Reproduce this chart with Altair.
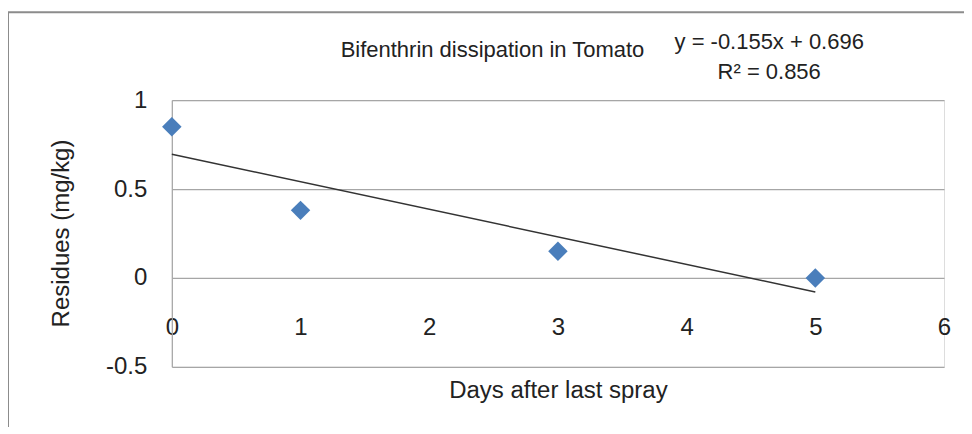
import altair as alt
import pandas as pd

# Data
days = [0, 1, 3, 5]
residues = [0.85, 0.38, 0.15, 0.0]
slope = -0.155
intercept = 0.696
trend_x = [0, 5]
y_ticks = [-0.5, 0, 0.5, 1]
x_ticks = [0, 1, 2, 3, 4, 5, 6]

FONT = "Liberation Sans Narrow, Liberation Sans, Arial, sans-serif"

pts = pd.DataFrame({"day": days, "res": residues})
trend = pd.DataFrame({"day": trend_x, "res": [slope * x + intercept for x in trend_x]})

xscale = alt.Scale(domain=[0, 6], nice=False, zero=False)
yscale = alt.Scale(domain=[-0.5, 1], nice=False)

xaxis = alt.Axis(
    values=x_ticks, title="Days after last spray", grid=False, domain=False, ticks=False,
    labelExpr="toString(datum.value)",
    labelBaseline="middle", labelPadding=-39, labelFlush=False, labelOverlap=False,
    labelFontSize=24, labelColor="#222222", labelFont=FONT,
    titleFontSize=24, titleFont=FONT, titleColor="#222222", titleFontWeight="normal",
    titleBaseline="middle", titleY=24,
)
yaxis = alt.Axis(
    values=y_ticks, title="Residues (mg/kg)", grid=True, gridColor="#a6a6a6", gridWidth=1.2,
    domain=True, domainColor="#a6a6a6", domainWidth=1.2, ticks=False,
    labelPadding=25, labelFontSize=24, labelColor="#222222", labelFont=FONT,
    labelExpr="toString(datum.value)",
    titleFontSize=24, titleFont=FONT, titleColor="#222222", titleFontWeight="normal",
    titleBaseline="middle", titleX=-110, titleY=133, titleAngle=-90,
)

frame = alt.Chart(pd.DataFrame({"a": [0]})).mark_rect(
    fill=None, stroke="#8c8c8c", strokeWidth=2, clip=False
).encode(
    x=alt.value(-164), x2=alt.value(900), y=alt.value(-88), y2=alt.value(420)
)

line = alt.Chart(trend).mark_line(color="#333333", strokeWidth=1.5).encode(
    x=alt.X("day:Q", scale=xscale, axis=xaxis),
    y=alt.Y("res:Q", scale=yscale, axis=yaxis),
)

points = alt.Chart(pts).mark_point(
    shape="diamond", filled=True, size=380, color="#4a7ebb", opacity=1
).encode(
    x=alt.X("day:Q", scale=xscale),
    y=alt.Y("res:Q", scale=yscale),
)

title_txt = alt.Chart(pd.DataFrame({"t": ["Bifenthrin dissipation in Tomato"]})).mark_text(
    font=FONT, fontSize=22, color="#222222", align="center", baseline="middle"
).encode(x=alt.value(321), y=alt.value(-50), text="t:N")

eq_txt = alt.Chart(pd.DataFrame({"t": [f"y = {slope}x + {intercept}", "R² = 0.856"], "dy": [-58, -28]})).mark_text(
    font=FONT, fontSize=22, color="#222222", align="center", baseline="middle"
).encode(x=alt.value(598), y=alt.Y("dy:Q", scale=None, axis=None), text="t:N")

chart = alt.layer(frame, line, points, title_txt, eq_txt).properties(
    width=773, height=267,
    autosize=alt.AutoSizeParams(type="none"),
    padding={"left": 164, "top": 92, "right": 20, "bottom": 60},
).configure_view(stroke=None).configure(background="white")

chart.save("out.html", embed_options={"renderer": "svg", "actions": False})
